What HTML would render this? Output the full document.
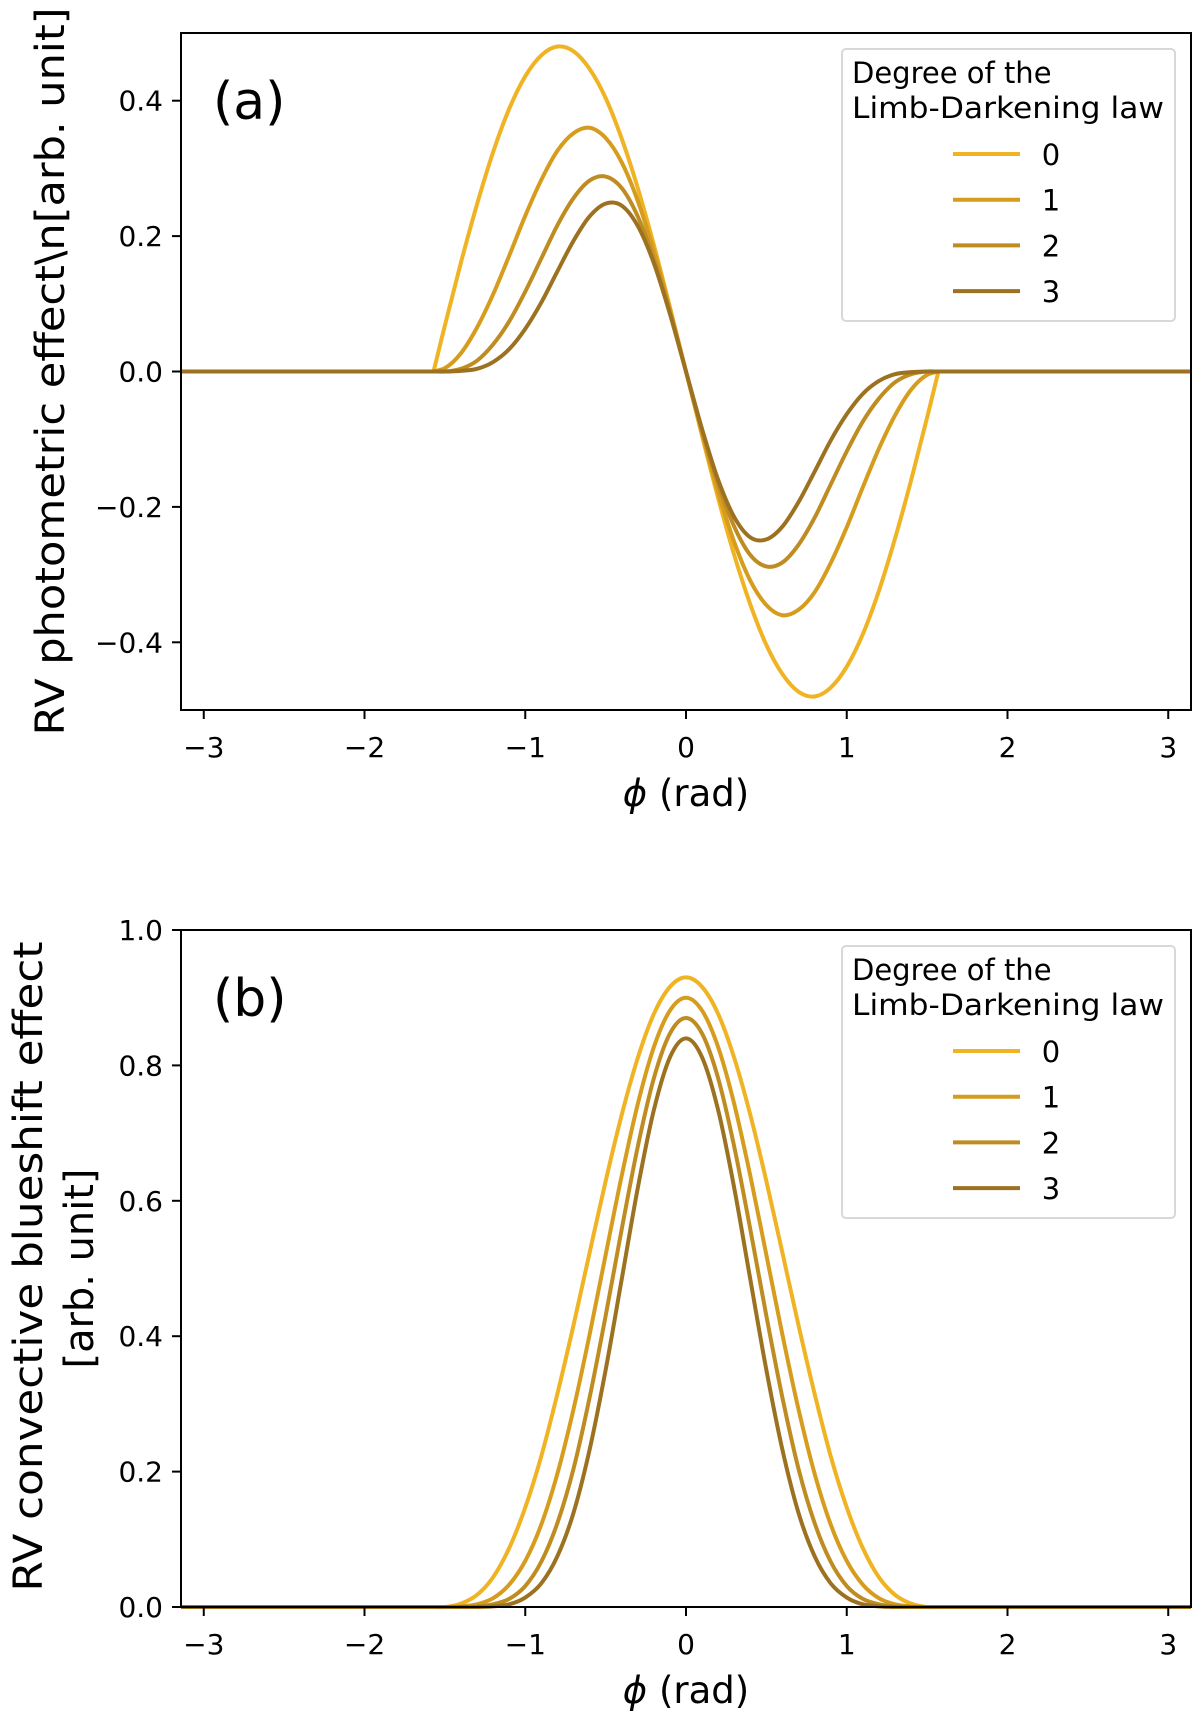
<!DOCTYPE html>
<html><head><meta charset="utf-8"><style>
html,body{margin:0;padding:0;background:#fff;}
svg{display:block;}
text{font-family:"DejaVu Sans","Liberation Sans",sans-serif;fill:#000;}
</style></head><body>
<svg id="fig" width="1200" height="1721" viewBox="0 0 1200 1721" xmlns="http://www.w3.org/2000/svg"></svg>
<script>
const phi = [-3.1416,-1.5708,-1.5,-1.4,-1.3,-1.2,-1.1,-1.0,-0.9,-0.8,-0.7,-0.6,-0.5,-0.4,-0.3,-0.2,-0.1,0,0.1,0.2,0.3,0.4,0.5,0.6,0.7,0.8,0.9,1.0,1.1,1.2,1.3,1.4,1.5,1.5708,3.1416];
const photo0 = [0,0,.068,.161,.247,.324,.388,.436,.467,.480,.473,.447,.404,.344,.271,.187,.095,0,-.095,-.187,-.271,-.344,-.404,-.447,-.473,-.480,-.467,-.436,-.388,-.324,-.247,-.161,-.068,0,0];
const photo1 = [0,0,.005,.027,.065,.114,.171,.230,.283,.326,.352,.360,.345,.309,.252,.178,.092,0,-.092,-.178,-.252,-.309,-.345,-.360,-.352,-.326,-.283,-.230,-.171,-.114,-.065,-.027,-.005,0,0];
const photo2 = [0,0,0,.004,.016,.040,.074,.118,.167,.216,.256,.282,.288,.271,.229,.166,.087,0,-.087,-.166,-.229,-.271,-.288,-.282,-.256,-.216,-.167,-.118,-.074,-.040,-.016,-.004,0,0,0];
const photo3 = [0,0,0,.001,.004,.014,.033,.063,.102,.148,.193,.229,.248,.245,.215,.160,.085,0,-.085,-.160,-.215,-.245,-.248,-.229,-.193,-.148,-.102,-.063,-.033,-.014,-.004,-.001,0,0,0];
const blue0 = [0,0,0,.005,.018,.044,.087,.147,.223,.315,.416,.523,.629,.727,.811,.876,.916,.930,.916,.876,.811,.727,.629,.523,.416,.315,.223,.147,.087,.044,.018,.005,0,0,0];
const blue1 = [0,0,0,.001,.004,.013,.033,.068,.122,.197,.292,.402,.520,.637,.743,.827,.881,.900,.881,.827,.743,.637,.520,.402,.292,.197,.122,.068,.033,.013,.004,.001,0,0,0];
const blue2 = [0,0,0,0,.001,.004,.012,.031,.067,.124,.204,.309,.430,.558,.680,.781,.847,.870,.847,.781,.680,.558,.430,.309,.204,.124,.067,.031,.012,.004,.001,0,0,0,0];
const blue3 = [0,0,0,0,0,.001,.004,.014,.035,.075,.139,.232,.350,.484,.619,.734,.812,.840,.812,.734,.619,.484,.350,.232,.139,.075,.035,.014,.004,.001,0,0,0,0,0];
const xTicks = [-3,-2,-1,0,1,2,3];
const xTickLabels = ["\u22123","\u22122","\u22121","0","1","2","3"];
const yTicksA = [-0.4,-0.2,0,0.2,0.4];
const yTickLabelsA = ["\u22120.4","\u22120.2","0.0","0.2","0.4"];
const yTicksB = [0,0.2,0.4,0.6,0.8,1.0];
const yTickLabelsB = ["0.0","0.2","0.4","0.6","0.8","1.0"];
const degrees = ["0","1","2","3"];
const colors = ["#f0b323","#d69c1e","#bf8c22","#9c7120"];

const NS="http://www.w3.org/2000/svg";
const svg=document.getElementById('fig');
function mk(tag,attrs,parent){const e=document.createElementNS(NS,tag);for(const k in attrs)e.setAttribute(k,attrs[k]);(parent||svg).appendChild(e);return e;}

function smoothPath(px,py){
  const n=px.length, sec=[], m=new Array(n).fill(0);
  for(let i=0;i<n-1;i++) sec.push((py[i+1]-py[i])/(px[i+1]-px[i]));
  m[0]=sec[0]; m[n-1]=sec[n-2];
  for(let i=1;i<n-1;i++){
    const h0=px[i]-px[i-1],h1=px[i+1]-px[i];
    m[i]=(h1*sec[i-1]+h0*sec[i])/(h0+h1);
  }
  let d='M'+px[0].toFixed(2)+','+py[0].toFixed(2);
  for(let i=0;i<n-1;i++){
    const h=px[i+1]-px[i];
    if(Math.abs(sec[i])<1e-9 && h>60){d+=' L'+px[i+1].toFixed(2)+','+py[i+1].toFixed(2);continue;}
    d+=' C'+(px[i]+h/3).toFixed(2)+','+(py[i]+m[i]*h/3).toFixed(2)+' '+(px[i+1]-h/3).toFixed(2)+','+(py[i+1]-m[i+1]*h/3).toFixed(2)+' '+px[i+1].toFixed(2)+','+py[i+1].toFixed(2);
  }
  return d;
}

function panel(cfg){
  const L=181,R=1191,T=cfg.top,B=cfg.top+677;
  const xs=v=>L+(v+Math.PI)/(2*Math.PI)*(R-L);
  const ys=v=>B-(v-cfg.ymin)/(cfg.ymax-cfg.ymin)*(B-T);
  const g=mk('g',{});
  
  
  const clip=mk('clipPath',{id:'clip'+cfg.id},g);
  mk('rect',{x:L,y:T-3,width:R-L,height:B-T+6},clip);
  const lg=mk('g',{'clip-path':'url(#clip'+cfg.id+')'},g);
  cfg.series.forEach((s,si)=>{
    const d=smoothPath(phi.map(xs),s.map(ys));
    const path=mk('path',{d:d,fill:'none',stroke:colors[si],'stroke-width':4,'stroke-linejoin':'round'},lg);
    
    
  });
  const frame=mk('rect',{x:L,y:T,width:R-L,height:B-T,fill:'none',stroke:'#000','stroke-width':2},g);
  
  
  xTicks.forEach((t,i)=>{
    mk('line',{x1:xs(t),x2:xs(t),y1:B,y2:B+9,stroke:'#000','stroke-width':2},g);
    const tx=mk('text',{x:xs(t),y:B+47,'font-size':28,'text-anchor':'middle'},g);
    tx.textContent=xTickLabels[i];
    
    
  });
  cfg.yt.forEach((t,i)=>{
    mk('line',{x1:L-9,x2:L,y1:ys(t),y2:ys(t),stroke:'#000','stroke-width':2},g);
    const tx=mk('text',{x:L-18,y:ys(t)+10,'font-size':28,'text-anchor':'end'},g);
    tx.textContent=cfg.ytl[i];
    
    
  });
  const xl=mk('text',{x:686,y:B+96,'font-size':37,'text-anchor':'middle'},g);
  xl.innerHTML='<tspan font-style="italic">\u03d5</tspan> (rad)';
  
  
  cfg.ylab.forEach((l,i)=>{
    const yl=mk('text',{x:0,y:0,'font-size':40,'text-anchor':'middle',transform:'translate('+l.x+','+((T+B)/2+l.dy)+') rotate(-90)',textLength:l.len,lengthAdjust:'spacingAndGlyphs'},g);
    yl.textContent=l.t;
    
    
  });
  const pl=mk('text',{x:213,y:T+86,'font-size':52,'font-family':'Liberation Sans, sans-serif'},g);
  pl.textContent=cfg.label;
  
  
  const lgd=mk('g',{},g);
  
  
  mk('rect',{x:842,y:T+16,width:333,height:272,rx:4,fill:'#fff',stroke:'#d8d8d8','stroke-width':2},lgd);
  const t1=mk('text',{x:852,y:T+50,'font-size':29},lgd);t1.textContent='Degree of the';
  const t2=mk('text',{x:852,y:T+85,'font-size':29,textLength:312,lengthAdjust:'spacingAndGlyphs'},lgd);t2.textContent='Limb-Darkening law';
  degrees.forEach((dg,i)=>{
    const y=T+121+i*45.7;
    const ln=mk('line',{x1:953,x2:1020,y1:y,y2:y,stroke:colors[i],'stroke-width':4},lgd);
    
    
    const lt=mk('text',{x:1051,y:y+11,'font-size':29,'text-anchor':'middle'},lgd);
    lt.textContent=dg;
    
    
  });
}
panel({id:'a',name:'panel-a-photometric',top:33,ymin:-0.5,ymax:0.5,yt:yTicksA,ytl:yTickLabelsA,label:'(a)',
  series:[photo0,photo1,photo2,photo3],
  ylab:[{t:'RV photometric effect\\n[arb. unit]',x:64,dy:0,len:728}]});
panel({id:'b',name:'panel-b-blueshift',top:930,ymin:0,ymax:1,yt:yTicksB,ytl:yTickLabelsB,label:'(b)',
  series:[blue0,blue1,blue2,blue3],
  ylab:[{t:'RV convective blueshift effect',x:42,dy:-2,len:650},{t:'[arb. unit]',x:93,dy:0,len:200}]});
</script>
</body></html>
